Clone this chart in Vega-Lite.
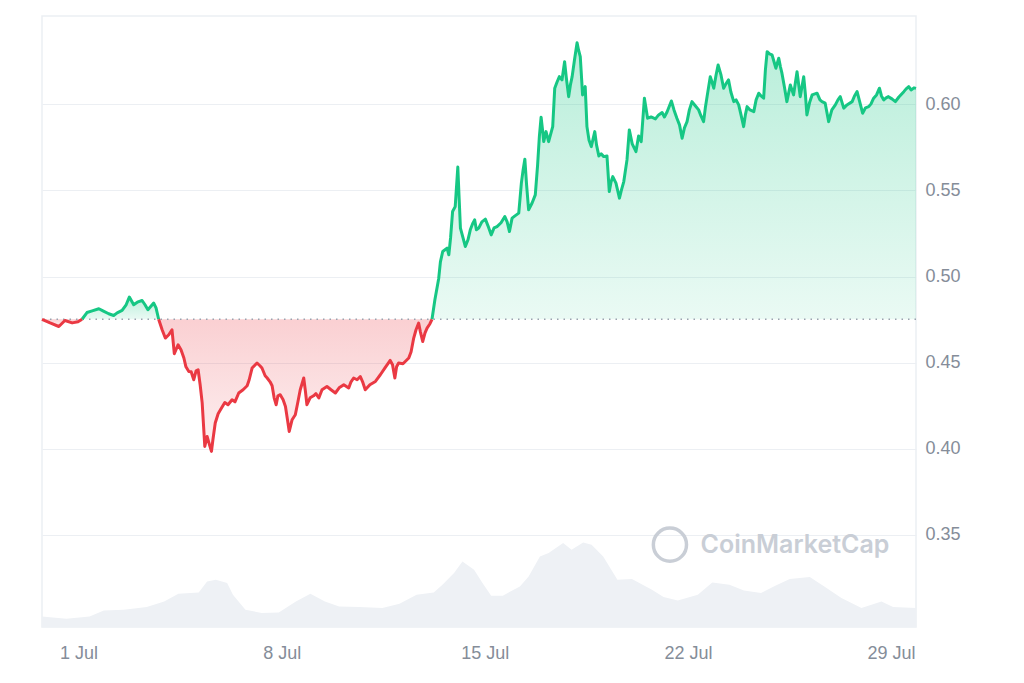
{
  "$schema": "https://vega.github.io/schema/vega-lite/v6.json",
  "width": 874,
  "height": 611,
  "padding": {"left": 40, "top": 16, "right": 10, "bottom": 10},
  "autosize": {"type": "pad"},
  "background": "white",
  "config": {
    "view": {"stroke": "#eceff3", "strokeWidth": 1.5},
    "font": "Liberation Sans"
  },
  "datasets": {
    "vol": [
      {"day": -0.26, "vol": 530}, {"day": 0.58, "vol": 415}, {"day": 1.38, "vol": 530}, {"day": 1.87, "vol": 830},
      {"day": 2.56, "vol": 865}, {"day": 3.35, "vol": 1000}, {"day": 3.95, "vol": 1280}, {"day": 4.44, "vol": 1665},
      {"day": 5.14, "vol": 1730}, {"day": 5.43, "vol": 2280}, {"day": 5.73, "vol": 2365}, {"day": 6.12, "vol": 2200},
      {"day": 6.32, "vol": 1615}, {"day": 6.75, "vol": 865}, {"day": 7.31, "vol": 700}, {"day": 7.90, "vol": 730},
      {"day": 8.49, "vol": 1280}, {"day": 8.99, "vol": 1665}, {"day": 9.49, "vol": 1280}, {"day": 9.98, "vol": 1030},
      {"day": 10.67, "vol": 1000}, {"day": 11.47, "vol": 950}, {"day": 12.06, "vol": 1165}, {"day": 12.65, "vol": 1615},
      {"day": 13.24, "vol": 1730}, {"day": 13.54, "vol": 2115}, {"day": 13.94, "vol": 2700}, {"day": 14.23, "vol": 3280},
      {"day": 14.63, "vol": 2865}, {"day": 14.92, "vol": 2200}, {"day": 15.22, "vol": 1565}, {"day": 15.62, "vol": 1565},
      {"day": 16.21, "vol": 2030}, {"day": 16.51, "vol": 2530}, {"day": 16.90, "vol": 3530}, {"day": 17.20, "vol": 3700},
      {"day": 17.70, "vol": 4200}, {"day": 17.99, "vol": 3865}, {"day": 18.39, "vol": 4230}, {"day": 18.68, "vol": 4115},
      {"day": 19.08, "vol": 3530}, {"day": 19.57, "vol": 2365}, {"day": 20.07, "vol": 2400}, {"day": 20.76, "vol": 1865},
      {"day": 21.16, "vol": 1500}, {"day": 21.65, "vol": 1330}, {"day": 22.34, "vol": 1615}, {"day": 22.84, "vol": 2230},
      {"day": 23.43, "vol": 2115}, {"day": 23.93, "vol": 1830}, {"day": 24.52, "vol": 1700}, {"day": 25.01, "vol": 2065},
      {"day": 25.51, "vol": 2400}, {"day": 26.20, "vol": 2500}, {"day": 26.70, "vol": 2030}, {"day": 27.29, "vol": 1450},
      {"day": 27.98, "vol": 950}, {"day": 28.67, "vol": 1280}, {"day": 29.07, "vol": 1000}, {"day": 29.86, "vol": 950}
    ],
    "price": [
      {"day": -0.26, "price": 0.4752, "seg": "r1"}, {"day": 0.02, "price": 0.4731, "seg": "r1"}, {"day": 0.32, "price": 0.4710, "seg": "r1"},
      {"day": 0.53, "price": 0.4745, "seg": "r1"}, {"day": 0.78, "price": 0.4731, "seg": "r1"}, {"day": 0.98, "price": 0.4737, "seg": "r1"},
      {"day": 1.12, "price": 0.4752, "seg": "r1"},
      {"day": 1.12, "price": 0.4752, "seg": "g1"}, {"day": 1.29, "price": 0.4791, "seg": "g1"}, {"day": 1.47, "price": 0.4801, "seg": "g1"},
      {"day": 1.70, "price": 0.4813, "seg": "g1"}, {"day": 1.84, "price": 0.4801, "seg": "g1"}, {"day": 2.04, "price": 0.4784, "seg": "g1"},
      {"day": 2.21, "price": 0.4774, "seg": "g1"}, {"day": 2.33, "price": 0.4789, "seg": "g1"}, {"day": 2.50, "price": 0.4803, "seg": "g1"},
      {"day": 2.64, "price": 0.4836, "seg": "g1"}, {"day": 2.75, "price": 0.4881, "seg": "g1"}, {"day": 2.90, "price": 0.4836, "seg": "g1"},
      {"day": 3.05, "price": 0.4853, "seg": "g1"}, {"day": 3.19, "price": 0.4861, "seg": "g1"}, {"day": 3.29, "price": 0.4836, "seg": "g1"},
      {"day": 3.39, "price": 0.4807, "seg": "g1"}, {"day": 3.59, "price": 0.4846, "seg": "g1"}, {"day": 3.67, "price": 0.4818, "seg": "g1"},
      {"day": 3.76, "price": 0.4752, "seg": "g1"},
      {"day": 3.76, "price": 0.4752, "seg": "r2"}, {"day": 3.88, "price": 0.4691, "seg": "r2"}, {"day": 3.99, "price": 0.4643, "seg": "r2"},
      {"day": 4.11, "price": 0.4662, "seg": "r2"}, {"day": 4.22, "price": 0.4691, "seg": "r2"}, {"day": 4.30, "price": 0.4552, "seg": "r2"},
      {"day": 4.43, "price": 0.4604, "seg": "r2"}, {"day": 4.53, "price": 0.4575, "seg": "r2"}, {"day": 4.63, "price": 0.4527, "seg": "r2"},
      {"day": 4.70, "price": 0.4476, "seg": "r2"}, {"day": 4.80, "price": 0.4449, "seg": "r2"}, {"day": 4.88, "price": 0.4447, "seg": "r2"},
      {"day": 4.97, "price": 0.4401, "seg": "r2"}, {"day": 5.05, "price": 0.4453, "seg": "r2"}, {"day": 5.12, "price": 0.4459, "seg": "r2"},
      {"day": 5.19, "price": 0.4372, "seg": "r2"}, {"day": 5.26, "price": 0.4267, "seg": "r2"}, {"day": 5.35, "price": 0.4014, "seg": "r2"},
      {"day": 5.43, "price": 0.4072, "seg": "r2"}, {"day": 5.50, "price": 0.4030, "seg": "r2"}, {"day": 5.58, "price": 0.3985, "seg": "r2"},
      {"day": 5.63, "price": 0.4053, "seg": "r2"}, {"day": 5.71, "price": 0.4150, "seg": "r2"}, {"day": 5.81, "price": 0.4204, "seg": "r2"},
      {"day": 5.89, "price": 0.4227, "seg": "r2"}, {"day": 6.04, "price": 0.4269, "seg": "r2"}, {"day": 6.15, "price": 0.4256, "seg": "r2"},
      {"day": 6.29, "price": 0.4285, "seg": "r2"}, {"day": 6.39, "price": 0.4273, "seg": "r2"}, {"day": 6.52, "price": 0.4324, "seg": "r2"},
      {"day": 6.67, "price": 0.4343, "seg": "r2"}, {"day": 6.81, "price": 0.4366, "seg": "r2"}, {"day": 6.88, "price": 0.4401, "seg": "r2"},
      {"day": 6.98, "price": 0.4469, "seg": "r2"}, {"day": 7.15, "price": 0.4498, "seg": "r2"}, {"day": 7.25, "price": 0.4482, "seg": "r2"},
      {"day": 7.32, "price": 0.4469, "seg": "r2"}, {"day": 7.43, "price": 0.4424, "seg": "r2"}, {"day": 7.50, "price": 0.4411, "seg": "r2"},
      {"day": 7.60, "price": 0.4389, "seg": "r2"}, {"day": 7.67, "price": 0.4366, "seg": "r2"}, {"day": 7.74, "price": 0.4296, "seg": "r2"},
      {"day": 7.81, "price": 0.4256, "seg": "r2"}, {"day": 7.87, "price": 0.4308, "seg": "r2"}, {"day": 7.95, "price": 0.4314, "seg": "r2"},
      {"day": 8.05, "price": 0.4285, "seg": "r2"}, {"day": 8.13, "price": 0.4246, "seg": "r2"}, {"day": 8.20, "price": 0.4169, "seg": "r2"},
      {"day": 8.26, "price": 0.4101, "seg": "r2"}, {"day": 8.36, "price": 0.4169, "seg": "r2"}, {"day": 8.47, "price": 0.4198, "seg": "r2"},
      {"day": 8.56, "price": 0.4273, "seg": "r2"}, {"day": 8.64, "price": 0.4343, "seg": "r2"}, {"day": 8.76, "price": 0.4411, "seg": "r2"},
      {"day": 8.82, "price": 0.4331, "seg": "r2"}, {"day": 8.87, "price": 0.4256, "seg": "r2"}, {"day": 8.98, "price": 0.4296, "seg": "r2"},
      {"day": 9.10, "price": 0.4308, "seg": "r2"}, {"day": 9.18, "price": 0.4320, "seg": "r2"}, {"day": 9.28, "price": 0.4295, "seg": "r2"},
      {"day": 9.39, "price": 0.4343, "seg": "r2"}, {"day": 9.56, "price": 0.4362, "seg": "r2"}, {"day": 9.70, "price": 0.4343, "seg": "r2"},
      {"day": 9.85, "price": 0.4324, "seg": "r2"}, {"day": 9.98, "price": 0.4354, "seg": "r2"}, {"day": 10.14, "price": 0.4372, "seg": "r2"},
      {"day": 10.31, "price": 0.4353, "seg": "r2"}, {"day": 10.39, "price": 0.4389, "seg": "r2"}, {"day": 10.48, "price": 0.4411, "seg": "r2"},
      {"day": 10.60, "price": 0.4401, "seg": "r2"}, {"day": 10.71, "price": 0.4420, "seg": "r2"}, {"day": 10.80, "price": 0.4384, "seg": "r2"},
      {"day": 10.88, "price": 0.4343, "seg": "r2"}, {"day": 11.04, "price": 0.4372, "seg": "r2"}, {"day": 11.23, "price": 0.4391, "seg": "r2"},
      {"day": 11.32, "price": 0.4412, "seg": "r2"}, {"day": 11.40, "price": 0.4430, "seg": "r2"}, {"day": 11.56, "price": 0.4470, "seg": "r2"},
      {"day": 11.74, "price": 0.4513, "seg": "r2"}, {"day": 11.82, "price": 0.4488, "seg": "r2"}, {"day": 11.90, "price": 0.4411, "seg": "r2"},
      {"day": 11.96, "price": 0.4476, "seg": "r2"}, {"day": 12.03, "price": 0.4498, "seg": "r2"}, {"day": 12.18, "price": 0.4494, "seg": "r2"},
      {"day": 12.38, "price": 0.4527, "seg": "r2"}, {"day": 12.46, "price": 0.4563, "seg": "r2"}, {"day": 12.55, "price": 0.4643, "seg": "r2"},
      {"day": 12.63, "price": 0.4691, "seg": "r2"}, {"day": 12.72, "price": 0.4730, "seg": "r2"}, {"day": 12.78, "price": 0.4679, "seg": "r2"},
      {"day": 12.86, "price": 0.4623, "seg": "r2"}, {"day": 12.94, "price": 0.4673, "seg": "r2"}, {"day": 13.01, "price": 0.4701, "seg": "r2"},
      {"day": 13.11, "price": 0.4726, "seg": "r2"}, {"day": 13.18, "price": 0.4752, "seg": "r2"},
      {"day": 13.18, "price": 0.4752, "seg": "g2"}, {"day": 13.28, "price": 0.4865, "seg": "g2"}, {"day": 13.41, "price": 0.4987, "seg": "g2"},
      {"day": 13.47, "price": 0.5085, "seg": "g2"}, {"day": 13.55, "price": 0.5145, "seg": "g2"}, {"day": 13.70, "price": 0.5165, "seg": "g2"},
      {"day": 13.76, "price": 0.5126, "seg": "g2"}, {"day": 13.82, "price": 0.5224, "seg": "g2"}, {"day": 13.89, "price": 0.5377, "seg": "g2"},
      {"day": 13.98, "price": 0.5406, "seg": "g2"}, {"day": 14.07, "price": 0.5635, "seg": "g2"}, {"day": 14.11, "price": 0.5474, "seg": "g2"},
      {"day": 14.16, "price": 0.5281, "seg": "g2"}, {"day": 14.25, "price": 0.5224, "seg": "g2"}, {"day": 14.33, "price": 0.5174, "seg": "g2"},
      {"day": 14.42, "price": 0.5213, "seg": "g2"}, {"day": 14.50, "price": 0.5271, "seg": "g2"}, {"day": 14.58, "price": 0.5306, "seg": "g2"},
      {"day": 14.65, "price": 0.5329, "seg": "g2"}, {"day": 14.71, "price": 0.5271, "seg": "g2"}, {"day": 14.79, "price": 0.5281, "seg": "g2"},
      {"day": 14.90, "price": 0.5317, "seg": "g2"}, {"day": 15.02, "price": 0.5333, "seg": "g2"}, {"day": 15.11, "price": 0.5294, "seg": "g2"},
      {"day": 15.22, "price": 0.5242, "seg": "g2"}, {"day": 15.32, "price": 0.5282, "seg": "g2"}, {"day": 15.42, "price": 0.5290, "seg": "g2"},
      {"day": 15.56, "price": 0.5312, "seg": "g2"}, {"day": 15.69, "price": 0.5348, "seg": "g2"}, {"day": 15.77, "price": 0.5317, "seg": "g2"},
      {"day": 15.85, "price": 0.5261, "seg": "g2"}, {"day": 15.94, "price": 0.5339, "seg": "g2"}, {"day": 16.04, "price": 0.5352, "seg": "g2"},
      {"day": 16.17, "price": 0.5368, "seg": "g2"}, {"day": 16.21, "price": 0.5445, "seg": "g2"}, {"day": 16.26, "price": 0.5542, "seg": "g2"},
      {"day": 16.32, "price": 0.5619, "seg": "g2"}, {"day": 16.38, "price": 0.5681, "seg": "g2"}, {"day": 16.44, "price": 0.5532, "seg": "g2"},
      {"day": 16.51, "price": 0.5387, "seg": "g2"}, {"day": 16.63, "price": 0.5427, "seg": "g2"}, {"day": 16.74, "price": 0.5474, "seg": "g2"},
      {"day": 16.82, "price": 0.5648, "seg": "g2"}, {"day": 16.88, "price": 0.5812, "seg": "g2"}, {"day": 16.94, "price": 0.5925, "seg": "g2"},
      {"day": 16.99, "price": 0.5851, "seg": "g2"}, {"day": 17.03, "price": 0.5783, "seg": "g2"}, {"day": 17.11, "price": 0.5841, "seg": "g2"},
      {"day": 17.20, "price": 0.5783, "seg": "g2"}, {"day": 17.34, "price": 0.5870, "seg": "g2"}, {"day": 17.41, "price": 0.6093, "seg": "g2"},
      {"day": 17.49, "price": 0.6129, "seg": "g2"}, {"day": 17.57, "price": 0.6160, "seg": "g2"}, {"day": 17.66, "price": 0.6141, "seg": "g2"},
      {"day": 17.75, "price": 0.6247, "seg": "g2"}, {"day": 17.81, "price": 0.6153, "seg": "g2"}, {"day": 17.89, "price": 0.6044, "seg": "g2"},
      {"day": 17.95, "price": 0.6112, "seg": "g2"}, {"day": 18.01, "price": 0.6160, "seg": "g2"}, {"day": 18.09, "price": 0.6257, "seg": "g2"},
      {"day": 18.18, "price": 0.6357, "seg": "g2"}, {"day": 18.23, "price": 0.6315, "seg": "g2"}, {"day": 18.29, "price": 0.6276, "seg": "g2"},
      {"day": 18.37, "price": 0.6054, "seg": "g2"}, {"day": 18.46, "price": 0.6102, "seg": "g2"}, {"day": 18.52, "price": 0.5870, "seg": "g2"},
      {"day": 18.59, "price": 0.5793, "seg": "g2"}, {"day": 18.67, "price": 0.5754, "seg": "g2"}, {"day": 18.79, "price": 0.5841, "seg": "g2"},
      {"day": 18.85, "price": 0.5764, "seg": "g2"}, {"day": 18.93, "price": 0.5700, "seg": "g2"}, {"day": 19.01, "price": 0.5712, "seg": "g2"},
      {"day": 19.10, "price": 0.5696, "seg": "g2"}, {"day": 19.21, "price": 0.5700, "seg": "g2"}, {"day": 19.29, "price": 0.5493, "seg": "g2"},
      {"day": 19.35, "price": 0.5549, "seg": "g2"}, {"day": 19.41, "price": 0.5580, "seg": "g2"}, {"day": 19.52, "price": 0.5542, "seg": "g2"},
      {"day": 19.64, "price": 0.5455, "seg": "g2"}, {"day": 19.71, "price": 0.5503, "seg": "g2"}, {"day": 19.79, "price": 0.5551, "seg": "g2"},
      {"day": 19.90, "price": 0.5677, "seg": "g2"}, {"day": 19.98, "price": 0.5851, "seg": "g2"}, {"day": 20.08, "price": 0.5770, "seg": "g2"},
      {"day": 20.21, "price": 0.5725, "seg": "g2"}, {"day": 20.30, "price": 0.5816, "seg": "g2"}, {"day": 20.39, "price": 0.5783, "seg": "g2"},
      {"day": 20.50, "price": 0.6034, "seg": "g2"}, {"day": 20.61, "price": 0.5919, "seg": "g2"}, {"day": 20.73, "price": 0.5926, "seg": "g2"},
      {"day": 20.88, "price": 0.5915, "seg": "g2"}, {"day": 20.99, "price": 0.5938, "seg": "g2"}, {"day": 21.11, "price": 0.5952, "seg": "g2"},
      {"day": 21.19, "price": 0.5926, "seg": "g2"}, {"day": 21.28, "price": 0.5955, "seg": "g2"}, {"day": 21.43, "price": 0.6019, "seg": "g2"},
      {"day": 21.52, "price": 0.5967, "seg": "g2"}, {"day": 21.62, "price": 0.5919, "seg": "g2"}, {"day": 21.71, "price": 0.5880, "seg": "g2"},
      {"day": 21.80, "price": 0.5803, "seg": "g2"}, {"day": 21.88, "price": 0.5863, "seg": "g2"}, {"day": 21.97, "price": 0.5899, "seg": "g2"},
      {"day": 22.05, "price": 0.5967, "seg": "g2"}, {"day": 22.14, "price": 0.6015, "seg": "g2"}, {"day": 22.26, "price": 0.5990, "seg": "g2"},
      {"day": 22.37, "price": 0.5967, "seg": "g2"}, {"day": 22.45, "price": 0.5932, "seg": "g2"}, {"day": 22.54, "price": 0.5899, "seg": "g2"},
      {"day": 22.60, "price": 0.5979, "seg": "g2"}, {"day": 22.66, "price": 0.6044, "seg": "g2"}, {"day": 22.77, "price": 0.6160, "seg": "g2"},
      {"day": 22.83, "price": 0.6129, "seg": "g2"}, {"day": 22.89, "price": 0.6093, "seg": "g2"}, {"day": 22.97, "price": 0.6170, "seg": "g2"},
      {"day": 23.04, "price": 0.6228, "seg": "g2"}, {"day": 23.14, "price": 0.6170, "seg": "g2"}, {"day": 23.23, "price": 0.6093, "seg": "g2"},
      {"day": 23.31, "price": 0.6118, "seg": "g2"}, {"day": 23.40, "price": 0.6141, "seg": "g2"}, {"day": 23.48, "price": 0.6071, "seg": "g2"},
      {"day": 23.58, "price": 0.6015, "seg": "g2"}, {"day": 23.66, "price": 0.6025, "seg": "g2"}, {"day": 23.75, "price": 0.5996, "seg": "g2"},
      {"day": 23.83, "price": 0.5938, "seg": "g2"}, {"day": 23.92, "price": 0.5870, "seg": "g2"}, {"day": 23.98, "price": 0.5938, "seg": "g2"},
      {"day": 24.04, "price": 0.5986, "seg": "g2"}, {"day": 24.14, "price": 0.5967, "seg": "g2"}, {"day": 24.27, "price": 0.5957, "seg": "g2"},
      {"day": 24.35, "price": 0.6025, "seg": "g2"}, {"day": 24.44, "price": 0.6064, "seg": "g2"}, {"day": 24.52, "price": 0.6048, "seg": "g2"},
      {"day": 24.61, "price": 0.6035, "seg": "g2"}, {"day": 24.67, "price": 0.6199, "seg": "g2"}, {"day": 24.73, "price": 0.6305, "seg": "g2"},
      {"day": 24.81, "price": 0.6292, "seg": "g2"}, {"day": 24.90, "price": 0.6286, "seg": "g2"}, {"day": 24.97, "price": 0.6245, "seg": "g2"},
      {"day": 25.03, "price": 0.6209, "seg": "g2"}, {"day": 25.13, "price": 0.6267, "seg": "g2"}, {"day": 25.19, "price": 0.6216, "seg": "g2"},
      {"day": 25.24, "price": 0.6180, "seg": "g2"}, {"day": 25.33, "price": 0.6095, "seg": "g2"}, {"day": 25.41, "price": 0.6015, "seg": "g2"},
      {"day": 25.53, "price": 0.6112, "seg": "g2"}, {"day": 25.64, "price": 0.6054, "seg": "g2"}, {"day": 25.76, "price": 0.6189, "seg": "g2"},
      {"day": 25.87, "price": 0.6044, "seg": "g2"}, {"day": 25.99, "price": 0.6160, "seg": "g2"}, {"day": 26.05, "price": 0.6054, "seg": "g2"},
      {"day": 26.10, "price": 0.5938, "seg": "g2"}, {"day": 26.19, "price": 0.6008, "seg": "g2"}, {"day": 26.28, "price": 0.6054, "seg": "g2"},
      {"day": 26.45, "price": 0.6064, "seg": "g2"}, {"day": 26.55, "price": 0.6025, "seg": "g2"}, {"day": 26.62, "price": 0.6015, "seg": "g2"},
      {"day": 26.73, "price": 0.6006, "seg": "g2"}, {"day": 26.85, "price": 0.5899, "seg": "g2"}, {"day": 26.96, "price": 0.5967, "seg": "g2"},
      {"day": 27.08, "price": 0.5996, "seg": "g2"}, {"day": 27.17, "price": 0.6025, "seg": "g2"}, {"day": 27.25, "price": 0.6044, "seg": "g2"},
      {"day": 27.37, "price": 0.5977, "seg": "g2"}, {"day": 27.48, "price": 0.5996, "seg": "g2"}, {"day": 27.66, "price": 0.6015, "seg": "g2"},
      {"day": 27.74, "price": 0.6048, "seg": "g2"}, {"day": 27.83, "price": 0.6073, "seg": "g2"}, {"day": 27.93, "price": 0.6008, "seg": "g2"},
      {"day": 28.02, "price": 0.5948, "seg": "g2"}, {"day": 28.12, "price": 0.5979, "seg": "g2"}, {"day": 28.23, "price": 0.5986, "seg": "g2"},
      {"day": 28.31, "price": 0.6002, "seg": "g2"}, {"day": 28.40, "price": 0.6035, "seg": "g2"}, {"day": 28.50, "price": 0.6054, "seg": "g2"},
      {"day": 28.60, "price": 0.6093, "seg": "g2"}, {"day": 28.67, "price": 0.6048, "seg": "g2"}, {"day": 28.75, "price": 0.6025, "seg": "g2"},
      {"day": 28.83, "price": 0.6037, "seg": "g2"}, {"day": 28.91, "price": 0.6044, "seg": "g2"}, {"day": 29.03, "price": 0.6031, "seg": "g2"},
      {"day": 29.15, "price": 0.6015, "seg": "g2"}, {"day": 29.27, "price": 0.6042, "seg": "g2"}, {"day": 29.44, "price": 0.6073, "seg": "g2"},
      {"day": 29.52, "price": 0.6089, "seg": "g2"}, {"day": 29.61, "price": 0.6102, "seg": "g2"}, {"day": 29.69, "price": 0.6083, "seg": "g2"},
      {"day": 29.79, "price": 0.6095, "seg": "g2"}, {"day": 29.86, "price": 0.6092, "seg": "g2"}
    ]
  },
  "layer": [
    {
      "data": {"name": "vol"},
      "mark": {"type": "area", "color": "#eef1f5"},
      "encoding": {
        "x": {"field": "day", "type": "quantitative", "scale": {"domain": [-0.26, 29.86], "nice": false, "zero": false}},
        "y": {"field": "vol", "type": "quantitative", "scale": {"domain": [0, 30550], "nice": false}, "axis": null}
      }
    },
    {
      "data": {"name": "price"},
      "layer": [
        {
          "transform": [{"filter": {"field": "seg", "oneOf": ["g1", "g2"]}}],
          "mark": {
            "type": "area",
            "color": {
              "gradient": "linear", "x1": 0, "y1": 0, "x2": 0, "y2": 1,
              "stops": [
                {"offset": 0, "color": "rgba(22,199,132,0.30)"},
                {"offset": 1, "color": "rgba(22,199,132,0.09)"}
              ]
            }
          },
          "encoding": {
            "x": {"field": "day", "type": "quantitative", "scale": {"domain": [-0.26, 29.86], "nice": false, "zero": false}},
            "y": {"field": "price", "type": "quantitative", "scale": {"domain": [0.2966, 0.6512], "nice": false, "zero": false}},
            "y2": {"datum": 0.4752},
            "detail": {"field": "seg"}
          }
        },
        {
          "transform": [{"filter": {"field": "seg", "oneOf": ["r1", "r2"]}}],
          "mark": {
            "type": "area",
            "color": {
              "gradient": "linear", "x1": 0, "y1": 0, "x2": 0, "y2": 1,
              "stops": [
                {"offset": 0, "color": "rgba(234,57,67,0.24)"},
                {"offset": 1, "color": "rgba(234,57,67,0.08)"}
              ]
            }
          },
          "encoding": {
            "x": {"field": "day", "type": "quantitative"},
            "y": {"field": "price", "type": "quantitative"},
            "y2": {"datum": 0.4752},
            "detail": {"field": "seg"}
          }
        },
        {
          "data": {"values": [{}]},
          "mark": {"type": "rule", "color": "#9aa2ae", "strokeWidth": 1.5, "strokeDash": [1.5, 5]},
          "encoding": {"y": {"datum": 0.4752}}
        },
        {
          "transform": [{"filter": {"field": "seg", "oneOf": ["g1", "g2"]}}],
          "mark": {"type": "line", "color": "#16c784", "strokeWidth": 3, "strokeJoin": "round"},
          "encoding": {
            "x": {"field": "day", "type": "quantitative"},
            "y": {"field": "price", "type": "quantitative"},
            "detail": {"field": "seg"}
          }
        },
        {
          "transform": [{"filter": {"field": "seg", "oneOf": ["r1", "r2"]}}],
          "mark": {"type": "line", "color": "#ea3943", "strokeWidth": 3, "strokeJoin": "round"},
          "encoding": {
            "x": {
              "field": "day", "type": "quantitative",
              "axis": {
                "values": [1, 8, 15, 22, 29], "labelExpr": "datum.value + ' Jul'",
                "grid": false, "ticks": false, "domain": false, "title": null,
                "labelPadding": 17, "labelFontSize": 18, "labelColor": "#858d99", "labelFont": "Liberation Sans"
              }
            },
            "y": {
              "field": "price", "type": "quantitative",
              "axis": {
                "orient": "right", "values": [0.35, 0.4, 0.45, 0.5, 0.55, 0.6], "format": ".2f",
                "grid": true, "gridColor": "#eceff3", "gridWidth": 1.2, "ticks": false, "domain": false, "title": null,
                "labelPadding": 9, "labelFontSize": 18, "labelColor": "#858d99", "labelFont": "Liberation Sans"
              }
            },
            "detail": {"field": "seg"}
          }
        },
        {
          "data": {"values": [{}]},
          "mark": {"type": "point", "shape": "circle", "filled": false, "size": 1100, "stroke": "#c9ced6", "strokeWidth": 3.5, "opacity": 1},
          "encoding": {
            "x": {"datum": 21.38, "type": "quantitative"},
            "y": {"datum": 0.3444, "type": "quantitative"}
          }
        },
        {
          "data": {"values": [{}]},
          "mark": {"type": "text", "text": "CoinMarketCap", "font": "Inter", "fontSize": 25, "fontWeight": 600, "color": "#c9ced6", "align": "center", "baseline": "middle"},
          "encoding": {
            "x": {"datum": 25.69, "type": "quantitative"},
            "y": {"datum": 0.3444, "type": "quantitative"}
          }
        }
      ]
    }
  ],
  "resolve": {"scale": {"y": "independent"}}
}
